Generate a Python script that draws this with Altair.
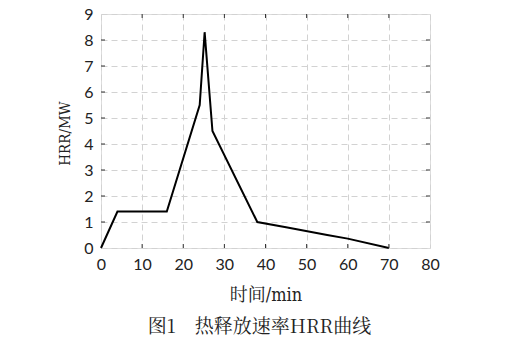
import altair as alt
import pandas as pd

# HRR curve (time in min, HRR in MW)
time_min = [0, 4, 16, 24, 25.2, 27.1, 38, 45, 55, 60, 70]
hrr_mw = [0, 1.4, 1.4, 5.5, 8.3, 4.5, 1.0, 0.8, 0.5, 0.36, 0]

x_ticks = [0, 10, 20, 30, 40, 50, 60, 70, 80]
y_ticks = [0, 1, 2, 3, 4, 5, 6, 7, 8, 9]

df = pd.DataFrame({"t": time_min, "hrr": hrr_mw})

W, H = 329, 234
XMAX, YMAX = 80, 9
tlx = XMAX * 4 / W   # inner tick length in x data units
tly = YMAX * 4 / H   # inner tick length in y data units

xs = alt.Scale(domain=[0, XMAX], nice=False)
ys = alt.Scale(domain=[0, YMAX], nice=False)

lab_font = "Lato"
serif_cjk = "Noto Serif CJK SC, DejaVu Serif"
title_font = "DejaVu Serif Condensed, Noto Serif CJK SC"

common = dict(grid=True, gridDash=[6, 4], gridColor="#d2d2d2", ticks=False,
              domain=False, labelFontSize=16, labelFont=lab_font,
              labelColor="#222", labelOverlap=False, labelFlush=False,
              labelBound=False, titleFont=title_font,
              titleFontWeight="normal", titleColor="#222")

x_axis = alt.Axis(values=x_ticks, title="时间/min", labelPadding=8,
                  titlePadding=14, titleFontSize=18, **common)
y_axis = alt.Axis(values=y_ticks, title="HRR/MW", labelPadding=8,
                  titlePadding=11, titleFontSize=15, titleY=H / 2 + 2, **common)

line = alt.Chart(df).mark_line(color="black", strokeWidth=2).encode(
    x=alt.X("t:Q", scale=xs, axis=x_axis),
    y=alt.Y("hrr:Q", scale=ys, axis=y_axis),
)

# inner tick marks on all four sides
bx = pd.DataFrame({"x": x_ticks[1:-1]})
by = pd.DataFrame({"y": y_ticks[1:-1]})
tick_col = "#333"
bottom_t = alt.Chart(bx).mark_rule(color=tick_col).encode(
    x=alt.X("x:Q", scale=xs, axis=x_axis), y=alt.datum(0, scale=ys, axis=y_axis),
    y2=alt.datum(tly))
top_t = alt.Chart(bx).mark_rule(color=tick_col).encode(
    x=alt.X("x:Q", scale=xs, axis=x_axis), y=alt.datum(YMAX, scale=ys, axis=y_axis),
    y2=alt.datum(YMAX - tly))
left_t = alt.Chart(by).mark_rule(color=tick_col).encode(
    y=alt.Y("y:Q", scale=ys, axis=y_axis), x=alt.datum(0, scale=xs, axis=x_axis),
    x2=alt.datum(tlx))
right_t = alt.Chart(by).mark_rule(color=tick_col).encode(
    y=alt.Y("y:Q", scale=ys, axis=y_axis), x=alt.datum(XMAX, scale=xs, axis=x_axis),
    x2=alt.datum(XMAX - tlx))

chart = alt.layer(line, bottom_t, top_t, left_t, right_t).properties(
    width=W, height=H,
    title=alt.TitleParams("图1　热释放速率HRR曲线", orient="bottom", anchor="middle",
                          font=serif_cjk, fontSize=19,
                          fontWeight="normal", color="#222", offset=14, dx=-6),
    autosize="none",
    padding={"left": 101, "top": 14, "right": 98, "bottom": 106},
).configure_view(stroke="#222", strokeWidth=1.2).configure(background="white")

chart.save("out.html", embed_options={"renderer": "svg", "actions": False})
